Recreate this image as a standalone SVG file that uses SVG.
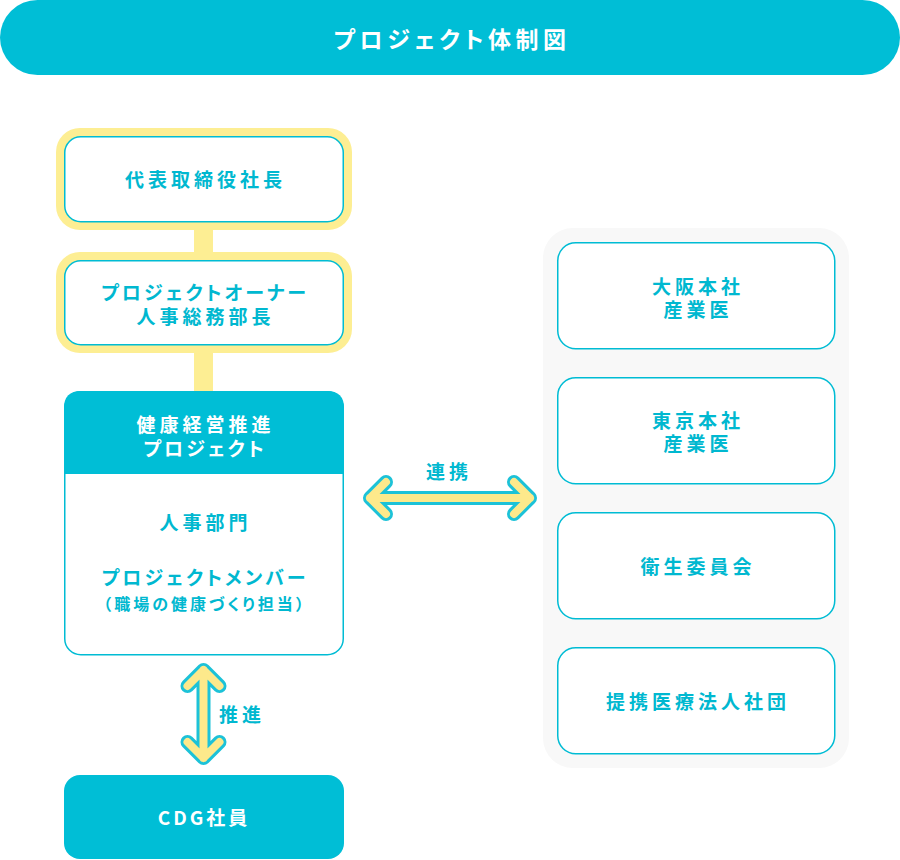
<svg xmlns="http://www.w3.org/2000/svg" width="900" height="860" viewBox="0 0 900 860">
<style>
text{font-family:"Noto Sans CJK JP","Noto Sans",sans-serif;font-weight:700;font-feature-settings:"palt";text-anchor:middle}
.t{fill:#00b8d0;font-size:19px;letter-spacing:4px}
.k{fill:#00b8d0;font-size:19px;letter-spacing:3px}
.w{fill:#ffffff;font-size:19px;letter-spacing:4px}
.wk{fill:#ffffff;font-size:19px;letter-spacing:3px}
.s{fill:#00b8d0;font-size:16px;letter-spacing:3px}
.box{fill:#ffffff;stroke:#00bcd4;stroke-width:1.5}
.ring{fill:#fdee93}
.cy{fill:#00bed6}
.aO{fill:none;stroke:#1cc2d8;stroke-width:14;stroke-linecap:round;stroke-linejoin:round}
.aI{fill:none;stroke:#fde98b;stroke-width:8;stroke-linecap:round;stroke-linejoin:round}
</style>
<rect width="900" height="860" fill="#ffffff"/>
<g id="title">
<rect x="0" y="0" width="900" height="75" rx="37.5" class="cy"/>
<text x="452" y="48" style="fill:#fff;font-size:23px;letter-spacing:4.5px">プロジェクト体制図</text>
</g>
<g id="connectors">
<rect x="194" y="228" width="19" height="26" class="ring"/>
<rect x="194" y="351" width="19" height="42" class="ring"/>
<path class="aO" d="M386 482 L370 498 L386 514 M370 498 L530 498 M514 482 L530 498 L514 514"/>
<path class="aI" d="M386 482 L370 498 L386 514 M370 498 L530 498 M514 482 L530 498 L514 514"/>
<text class="t" x="449" y="479">連携</text>
<path class="aO" d="M187.5 686 L203.5 670 L219.5 686 M203.5 670 L203.5 758 M187.5 742 L203.5 758 L219.5 742"/>
<path class="aI" d="M187.5 686 L203.5 670 L219.5 686 M203.5 670 L203.5 758 M187.5 742 L203.5 758 L219.5 742"/>
<text class="t" x="219" y="722" style="text-anchor:start">推進</text>
</g>
<g id="president">
<rect x="56" y="128" width="296" height="102" rx="24" class="ring"/>
<rect x="64.75" y="136.75" width="278.5" height="85" rx="16" class="box"/>
<text class="t" x="205.5" y="187">代表取締役社長</text>
</g>
<g id="owner">
<rect x="56" y="252" width="296" height="101" rx="24" class="ring"/>
<rect x="64.75" y="260.75" width="278.5" height="84" rx="16" class="box"/>
<text class="k" x="205" y="300">プロジェクトオーナー</text>
<text class="t" x="205.5" y="324">人事総務部長</text>
</g>
<g id="project">
<rect x="64.75" y="391.75" width="278.5" height="263" rx="16" class="box"/>
<path d="M64 474 V408 Q64 391 81 391 H327 Q344 391 344 408 V474 Z" class="cy"/>
<text class="w" x="205.5" y="432">健康経営推進</text>
<text class="wk" x="205" y="456">プロジェクト</text>
<text class="t" x="205.5" y="530">人事部門</text>
<text class="k" x="205" y="585">プロジェクトメンバー</text>
<text class="s" x="205" y="610">（職場の健康づくり担当）</text>
</g>
<g id="employees">
<rect x="64" y="775" width="280" height="84" rx="16" class="cy"/>
<text class="wk" x="204" y="825">CDG社員</text>
</g>
<g id="partners">
<rect x="543" y="228" width="306" height="540" rx="30" fill="#f8f8f8"/>
<g id="osaka">
<rect x="557.75" y="242.75" width="277" height="106" rx="18" class="box"/>
<text class="t" x="698" y="294">大阪本社</text>
<text class="t" x="698" y="317">産業医</text>
</g>
<g id="tokyo">
<rect x="557.75" y="377.75" width="277" height="106" rx="18" class="box"/>
<text class="t" x="698" y="428">東京本社</text>
<text class="t" x="698" y="451">産業医</text>
</g>
<g id="committee">
<rect x="557.75" y="512.75" width="277" height="106" rx="18" class="box"/>
<text class="t" x="698" y="574">衛生委員会</text>
</g>
<g id="medical">
<rect x="557.75" y="647.75" width="277" height="106" rx="18" class="box"/>
<text class="t" x="698" y="709">提携医療法人社団</text>
</g>
</g>
</svg>
